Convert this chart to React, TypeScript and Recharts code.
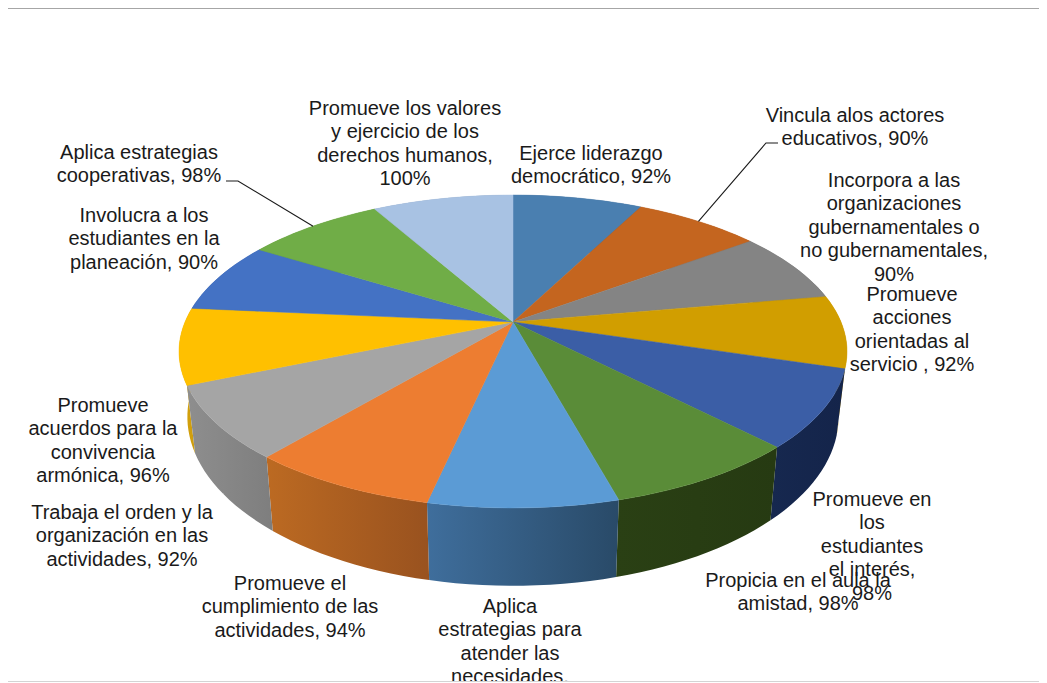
import { PieChart, Pie } from 'recharts'

const CATEGORIES = [
  'Ejerce liderazgo democrático',
  'Vincula alos actores educativos',
  'Incorpora a las organizaciones gubernamentales o no gubernamentales',
  'Promueve acciones orientadas al servicio',
  'Promueve en los estudiantes el interés',
  'Propicia en el aula la amistad',
  'Aplica estrategias para atender las necesidades',
  'Promueve el cumplimiento de las actividades',
  'Trabaja el orden y la organización en las actividades',
  'Promueve acuerdos para la convivencia armónica',
  'Involucra a los estudiantes en la planeación',
  'Aplica estrategias cooperativas',
  'Promueve los valores y ejercicio de los derechos humanos',
]
const VALUES = [92, 90, 90, 92, 98, 98, 94, 94, 92, 96, 90, 98, 100]
const TOP_COLORS = [
  '#4A7FB0', '#C4651F', '#848484', '#D19E00', '#3B5EA6', '#5A8C38', '#5B9BD5',
  '#ED7D31', '#A5A5A5', '#FFC000', '#4472C4', '#70AD47', '#A8C2E3',
]
const WALL_LEFT = [
  '#3A6488', '#9C5019', '#6A6A6A', '#C99A10', '#16284F', '#2A4014', '#3F6E9C',
  '#BC6A22', '#8E8E8E', '#D9A408', '#36599C', '#598A38', '#8698B4',
]
const WALL_RIGHT = [
  '#3A6488', '#9C5019', '#6A6A6A', '#C99A10', '#14244A', '#263A12', '#294A68',
  '#99521F', '#7E7E7E', '#C99A10', '#36599C', '#598A38', '#8698B4',
]
const LABEL_LINES = [
  ['Ejerce liderazgo', 'democrático, 92%'],
  ['Vincula alos actores', 'educativos, 90%'],
  ['Incorpora a las', 'organizaciones', 'gubernamentales o', 'no gubernamentales,', '90%'],
  ['Promueve', 'acciones', 'orientadas al', 'servicio , 92%'],
  ['Promueve en', 'los', 'estudiantes', 'el interés,', '98%'],
  ['Propicia en el aula la', 'amistad, 98%'],
  ['Aplica', 'estrategias para', 'atender las', 'necesidades,'],
  ['Promueve el', 'cumplimiento de las', 'actividades, 94%'],
  ['Trabaja el orden y la', 'organización en las', 'actividades, 92%'],
  ['Promueve', 'acuerdos para la', 'convivencia', 'armónica, 96%'],
  ['Involucra a los', 'estudiantes en la', 'planeación, 90%'],
  ['Aplica estrategias', 'cooperativas, 98%'],
  ['Promueve los valores', 'y ejercicio de los', 'derechos humanos,', '100%'],
]

// label block placement: centre x, first line centre y
const LABEL_POS = [
  [591, 153], [855, 115], [894, 180], [912, 294], [872, 499], [798, 580], [510, 606],
  [290, 583], [122, 512], [103, 405], [144, 215], [139, 152], [405, 108],
]
// elbow of the leader lines, only two labels have one
const LEADERS: Record<number, [number, number, number]> = {
  1: [778, 766, 143],
  11: [226, 238, 181],
}

const WIDTH = 1047
const HEIGHT = 683
const LINE_H = 23.4
const FONT_SIZE = 20

// the pie is tilted with a perspective, so the disc is projected by hand
const PERSP = 0.1885
const SQUASH = 0.46
const WALL_DROP = 63
const WALL_SX = 0.975
const WALL_SY = 1.08

const data = CATEGORIES.map((name, i) => ({ name, value: VALUES[i], fill: TOP_COLORS[i], wall: `url(#wall${i})` }))

function project(cx: number, cy: number, r: number, deg: number, bottom = false) {
  const t = ((90 - deg) * Math.PI) / 180
  const X = Math.sin(t)
  const Y = -Math.cos(t)
  const d = 1 - PERSP * Y
  const u = (r * X) / d
  const v = (r * SQUASH * Y) / d
  if (bottom) return { x: cx + u * WALL_SX, y: cy + v * WALL_SY + WALL_DROP }
  return { x: cx + u, y: cy + v }
}

function steps(start: number, end: number) {
  const n = Math.max(2, Math.ceil(Math.abs(end - start) / 2))
  return Array.from({ length: n + 1 }, (_, i) => start + ((end - start) * i) / n)
}

function TopFace(props: any) {
  const { cx, cy, outerRadius, startAngle, endAngle, fill } = props
  const pts = steps(startAngle, endAngle).map(a => project(cx, cy, outerRadius, a))
  const d = `M${cx},${cy}` + pts.map(p => `L${p.x.toFixed(2)},${p.y.toFixed(2)}`).join('') + 'Z'
  return <path d={d} fill={fill} stroke={fill} strokeWidth={0.5} />
}

const wallFace = (back: boolean) => (props: any) => {
  const { cx, cy, outerRadius, startAngle, endAngle, midAngle, payload } = props
  const mid = midAngle ?? (startAngle + endAngle) / 2
  const norm = ((90 - mid) % 360 + 360) % 360
  const isFront = norm > 110 && norm < 245
  if (isFront === back) return <g />
  const as = steps(startAngle, endAngle)
  let d = ''
  for (let i = 0; i < as.length - 1; i++) {
    const a = project(cx, cy, outerRadius, as[i])
    const b = project(cx, cy, outerRadius, as[i + 1])
    const c = project(cx, cy, outerRadius, as[i + 1], true)
    const e = project(cx, cy, outerRadius, as[i], true)
    d += `M${a.x},${a.y}L${b.x},${b.y}L${c.x},${c.y}L${e.x},${e.y}Z`
  }
  return <path d={d} fill={payload?.wall ?? props.wall} stroke="none" />
}

function SliceLabel(props: any) {
  const { cx, cy, outerRadius, midAngle, index } = props
  const [lx, ly] = LABEL_POS[index]
  const leader = LEADERS[index]
  let line = null
  if (leader) {
    const p = project(cx, cy, outerRadius, midAngle)
    line = (
      <path
        d={`M${leader[0]},${leader[2]}L${leader[1]},${leader[2]}L${p.x},${p.y}`}
        fill="none"
        stroke="#1a1a1a"
        strokeWidth={1.1}
      />
    )
  }
  return (
    <g>
      {line}
      <text textAnchor="middle" fontFamily="'Liberation Sans', Arial, sans-serif" fontSize={FONT_SIZE} fill="#1a1a1a">
        {LABEL_LINES[index].map((t, i) => (
          <tspan key={i} x={lx} y={ly + i * LINE_H + 7}>{t}</tspan>
        ))}
      </text>
    </g>
  )
}

export default function App() {
  return (
    <div style={{ position: 'relative', width: WIDTH, height: HEIGHT, margin: '-8px 0 0 -8px', overflow: 'hidden', background: '#fff' }}>
      <div style={{ position: 'absolute', left: 0, top: 0 }}>
        <PieChart width={WIDTH} height={681} margin={{ top: 0, right: 0, bottom: 0, left: 0 }}>
          <defs>
            {WALL_LEFT.map((c, i) => (
              <linearGradient key={i} id={`wall${i}`} x1="0" y1="0" x2="1" y2="0">
                <stop offset="0%" stopColor={c} />
                <stop offset="100%" stopColor={WALL_RIGHT[i]} />
              </linearGradient>
            ))}
          </defs>
          {[true, false].map(back => (
            <Pie
              key={back ? 'wall-back' : 'wall-front'}
              data={data}
              dataKey="value"
              nameKey="name"
              cx={513}
              cy={322}
              outerRadius={328}
              startAngle={90}
              endAngle={-270}
              paddingAngle={0}
              stroke="none"
              isAnimationActive={false}
              shape={wallFace(back)}
              label={false}
              labelLine={false}
            />
          ))}
          <Pie
            data={data}
            dataKey="value"
            nameKey="name"
            cx={513}
            cy={322}
            outerRadius={328}
            startAngle={90}
            endAngle={-270}
            paddingAngle={0}
            stroke="none"
            isAnimationActive={false}
            shape={TopFace}
            label={SliceLabel}
            labelLine={false}
          />
        </PieChart>
      </div>
      {/* frame of the chart area, its right edge runs off the picture */}
      <div style={{ position: 'absolute', left: 5, top: 7, width: WIDTH - 5, height: 2, background: '#a6a6a6' }} />
      <div style={{ position: 'absolute', left: 5, top: 7, width: 2, height: 675, background: '#a6a6a6' }} />
      <div style={{ position: 'absolute', left: 5, top: 681, width: WIDTH - 5, height: 1, background: '#d4d4d4' }} />
    </div>
  )
}
